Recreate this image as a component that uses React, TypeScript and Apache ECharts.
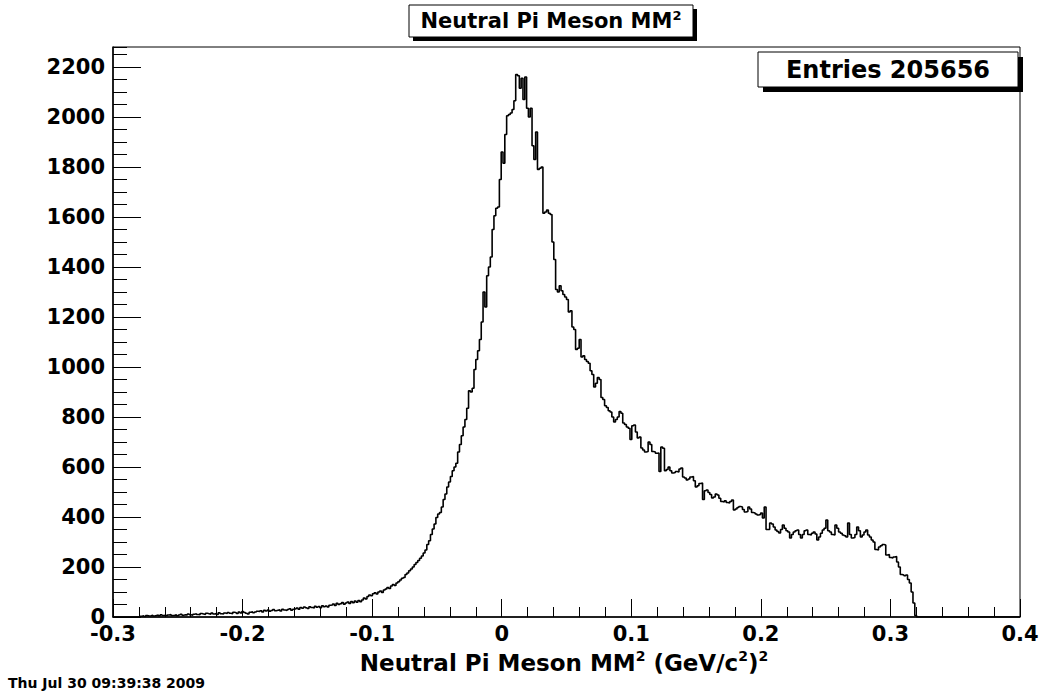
import React, { useEffect, useRef } from 'react';
import * as echarts from 'echarts';

const FONT = 'DejaVu Sans';

// Histogram: 500 bins from -0.3 to 0.4
const binStart = -0.3;
const binWidth = 0.0014;
const xMin = -0.3;
const xMax = 0.4;
const yMax = 2280;

const counts: number[] = [
  0, 0, 0, 0, 0, 0, 0, 0, 0, 0, 0, 0, 0, 0, 0, 3, 5, 2, 6, 4,
  5, 7, 4, 6, 8, 5, 9, 6, 7, 5, 8, 10, 6, 7, 9, 5, 8, 11, 7, 9,
  8, 12, 9, 7, 11, 13, 10, 9, 14, 12, 10, 15, 13, 11, 16, 12, 14, 10, 17, 13,
  12, 16, 14, 18, 15, 13, 19, 17, 14, 20, 16, 22, 18, 15, 12, 19, 21, 17, 20, 23,
  22, 25, 20, 27, 24, 28, 23, 26, 30, 25, 27, 29, 24, 31, 28, 26, 30, 33, 27, 31,
  33, 36, 31, 38, 35, 40, 37, 34, 41, 38, 36, 43, 39, 42, 37, 45, 41, 44, 40, 47,
  48, 52, 46, 55, 50, 53, 58, 51, 56, 60, 54, 62, 57, 64, 59, 66, 61, 68, 76, 72,
  82, 88, 85, 93, 97, 92, 100, 104, 98, 108, 112, 118, 114, 124, 130, 126, 136, 141, 148, 155,
  158, 170, 176, 185, 192, 200, 210, 218, 226, 235, 244, 256, 268, 290, 305, 330, 352, 372, 398, 412,
  418, 440, 470, 492, 520, 540, 562, 585, 600, 615, 660, 690, 725, 760, 790, 835, 905, 900, 915, 990,
  1030, 1065, 1110, 1180, 1300, 1240, 1365, 1400, 1440, 1550, 1605, 1635, 1640, 1750, 1860, 1815, 1930, 2005, 2010, 2016,
  2030, 2065, 2170, 2165, 2115, 2155, 2070, 2160, 2035, 2000, 2035, 1885, 1830, 1940, 1790, 1795, 1800, 1615, 1620, 1628,
  1615, 1610, 1500, 1430, 1310, 1300, 1325, 1305, 1290, 1280, 1270, 1220, 1225, 1160, 1150, 1070, 1075, 1110, 1040, 1045,
  1030, 1022, 1015, 985, 970, 920, 935, 958, 950, 878, 870, 845, 838, 825, 820, 800, 780, 790, 800, 822,
  815, 776, 770, 760, 755, 710, 765, 768, 740, 716, 720, 676, 668, 660, 662, 700, 690, 662, 660, 655,
  656, 582, 680, 675, 585, 590, 600, 585, 576, 578, 582, 580, 592, 596, 560, 556, 548, 552, 560, 562,
  545, 520, 525, 534, 536, 470, 505, 508, 498, 490, 476, 480, 492, 488, 475, 462, 460, 465, 458, 456,
  462, 468, 428, 432, 438, 442, 440, 430, 420, 422, 440, 432, 418, 416, 412, 408, 410, 416, 396, 440,
  350, 350, 376, 372, 360, 348, 342, 336, 350, 368, 355, 345, 340, 316, 330, 340, 345, 348, 330, 316,
  330, 345, 348, 330, 328, 335, 340, 332, 308, 320, 335, 348, 355, 388, 345, 340, 330, 328, 368, 355,
  340, 335, 328, 325, 320, 376, 330, 316, 318, 330, 360, 345, 320, 328, 340, 348, 328, 320, 308, 300,
  270, 268, 280, 285, 290, 288, 248, 250, 238, 236, 240, 242, 220, 200, 170, 168, 165, 168, 150, 136,
  100, 56, 6, 0, 0, 0, 0, 0, 0, 0, 0, 0, 0, 0, 0, 0, 0, 0, 0, 0,
  0, 0, 0, 0, 0, 0, 0, 0, 0, 0, 0, 0, 0, 0, 0, 0, 0, 0, 0, 0,
  0, 0, 0, 0, 0, 0, 0, 0, 0, 0, 0, 0, 0, 0, 0, 0, 0, 0, 0, 0,
];

const titleText = 'Neutral Pi Meson MM';
const xTitleParts = ['Neutral Pi Meson MM', ' (GeV/c', ')'];
const entriesText = 'Entries 205656';
const dateText = 'Thu Jul 30 09:39:38 2009';

const fmtX = (v: number) => {
  const r = Math.round(v * 10) / 10;
  return r === 0 ? '0' : String(r);
};
const fmtY = (v: number) => String(Math.round(v));

export default function App() {
  const ref = useRef<HTMLDivElement>(null);
  useEffect(() => {
    const chart = echarts.init(ref.current!, null, { renderer: 'svg' });
    const data: number[][] = counts.map((c, i) => [binStart + i * binWidth, c]);
    data.push([binStart + counts.length * binWidth, 0]);

    const richTitle = (size: number, sup: number, lh: number) => ({
      n: { fontFamily: FONT, fontWeight: 'bold', fontSize: size, lineHeight: lh, color: '#000' },
      s: { fontFamily: FONT, fontWeight: 'bold', fontSize: sup, lineHeight: sup, verticalAlign: 'top', color: '#000' },
    });

    chart.setOption({
      animation: false,
      backgroundColor: '#fff',
      grid: {
        left: 113, top: 47, width: 907, height: 570,
        show: true, borderColor: '#000', borderWidth: 1, backgroundColor: 'transparent',
      },
      xAxis: {
        type: 'value', min: xMin, max: xMax, interval: 0.1,
        axisLine: { onZero: false, lineStyle: { color: '#000', width: 1.5 } },
        axisTick: { inside: true, length: 18, lineStyle: { color: '#000', width: 1 } },
        minorTick: { show: true, splitNumber: 5, length: 10, lineStyle: { color: '#000', width: 1 } },
        splitLine: { show: false },
        minorSplitLine: { show: false },
        axisLabel: {
          margin: 6, fontFamily: FONT, fontWeight: 'bold', fontSize: 21, color: '#000',
          formatter: fmtX,
        },
      },
      yAxis: [
        {
          type: 'value', min: 0, max: yMax, interval: 200, position: 'left',
          axisLine: { onZero: false, lineStyle: { color: '#000', width: 1.5 } },
          axisTick: { inside: true, length: 28, lineStyle: { color: '#000', width: 1 } },
          splitLine: { show: false },
          axisLabel: {
            margin: 8, fontFamily: FONT, fontWeight: 'bold', fontSize: 21, color: '#000',
            showMaxLabel: false, formatter: fmtY,
          },
        },
        {
          type: 'value', min: 0, max: yMax, interval: 50, position: 'left',
          axisLine: { show: false, onZero: false },
          axisTick: { inside: true, length: 14, lineStyle: { color: '#000', width: 1 } },
          splitLine: { show: false },
          axisLabel: { show: false },
        },
      ],
      series: [
        {
          type: 'line', step: 'end', data, symbol: 'none', showSymbol: false,
          xAxisIndex: 0, yAxisIndex: 0,
          lineStyle: { color: '#000', width: 1.6 },
        },
      ],
      graphic: [
        { type: 'rect', z: 100, shape: { x: 413, y: 9, width: 284, height: 32 }, style: { fill: '#000' } },
        { type: 'rect', z: 101, shape: { x: 409, y: 5, width: 284, height: 32 }, style: { fill: '#fff', stroke: '#000', lineWidth: 1 } },
        {
          type: 'text', z: 102, x: 551, y: 21,
          style: {
            text: `{n|${titleText}}{s|2}`,
            rich: richTitle(21, 13, 25),
            align: 'center', verticalAlign: 'middle',
          },
        },
        { type: 'rect', z: 100, shape: { x: 763, y: 57, width: 260, height: 35 }, style: { fill: '#000' } },
        { type: 'rect', z: 101, shape: { x: 758, y: 52, width: 260, height: 35 }, style: { fill: '#fff', stroke: '#000', lineWidth: 1 } },
        {
          type: 'text', z: 102, x: 888, y: 70,
          style: {
            text: entriesText, fontFamily: FONT, fontWeight: 'bold', fontSize: 24, fill: '#000',
            align: 'center', verticalAlign: 'middle',
          },
        },
        {
          type: 'text', z: 102, x: 564, y: 663,
          style: {
            text: `{n|${xTitleParts[0]}}{s|2}{n|${xTitleParts[1]}}{s|2}{n|${xTitleParts[2]}}{s|2}`,
            rich: richTitle(23, 14, 28),
            align: 'center', verticalAlign: 'middle',
          },
        },
        {
          type: 'text', z: 102, x: 8, y: 683,
          style: {
            text: dateText, fontFamily: FONT, fontWeight: 'bold', fontSize: 14, fill: '#000',
            align: 'left', verticalAlign: 'middle',
          },
        },
      ],
    });
    return () => chart.dispose();
  }, []);
  return <div ref={ref} style={{ position: 'fixed', left: 0, top: 0, width: 1044, height: 693 }} />;
}
